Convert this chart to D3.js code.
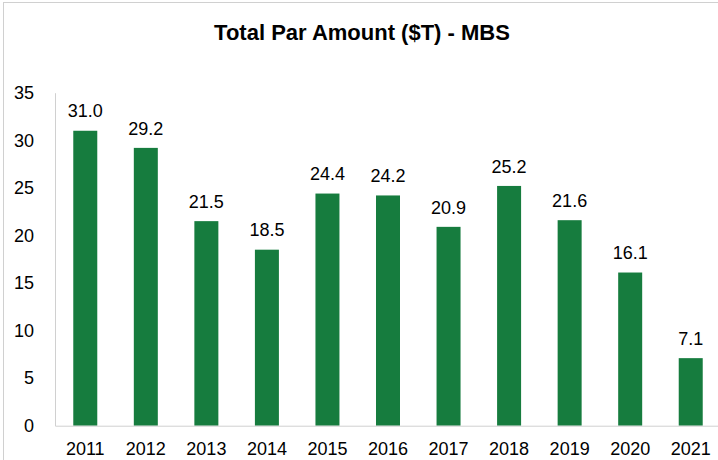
<!DOCTYPE html>
<html><head><meta charset="utf-8">
<script src="https://cdn.jsdelivr.net/npm/d3@7"></script>
<style>body{margin:0;background:#fff}svg{display:block}text{font-family:"Liberation Sans",Arial,sans-serif}</style>
</head><body><svg id="c" width="718" height="460"></svg>
<script>
const years = ["2011","2012","2013","2014","2015","2016","2017","2018","2019","2020","2021"];
const values = [31.0, 29.2, 21.5, 18.5, 24.4, 24.2, 20.9, 25.2, 21.6, 16.1, 7.1];
const yTicks = [0,5,10,15,20,25,30,35];
const title = "Total Par Amount ($T) - MBS";

(function(){
const svg = d3.select("#c");
svg.append("rect").attr("x",3.5).attr("y",2.5).attr("width",730).attr("height",480)
  .attr("fill","#fff").attr("stroke","#d0d0d0").attr("stroke-width",1);

const pL = 55, pR = 721, pT = 92.7, pB = 425.7;
const fs = 18;
const x = d3.scaleBand().domain(years).range([pL,pR]).paddingInner(0.6036).paddingOuter(0.3018);
const y = d3.scaleLinear().domain([0,35]).range([pB,pT]);

svg.append("text").attr("x",362).attr("y",40).attr("text-anchor","middle")
  .attr("font-size",22).attr("font-weight","bold").attr("fill","#000").text(title);

svg.selectAll("rect.bar").data(values).join("rect").attr("class","bar")
  .attr("x",(d,i)=>x(years[i])).attr("width",x.bandwidth())
  .attr("y",d=>y(d)).attr("height",d=>y(0)-y(d)).attr("fill","#167c3e");

svg.selectAll("text.val").data(values).join("text").attr("class","val")
  .attr("x",(d,i)=>x(years[i])+x.bandwidth()/2).attr("y",d=>y(d)-13.3)
  .attr("text-anchor","middle").attr("font-size",fs).attr("fill","#000").text(d=>d.toFixed(1));

const ya = svg.append("g").attr("transform",`translate(${pL},0)`)
  .call(d3.axisLeft(y).tickValues(yTicks).tickSize(0).tickPadding(21));
ya.select(".domain").attr("stroke","#d0d0d0");
ya.selectAll("text").attr("font-size",fs).attr("fill","#000").style("font-family","'Liberation Sans',Arial,sans-serif");

const xa = svg.append("g").attr("transform",`translate(0,${pB})`)
  .call(d3.axisBottom(x).tickSize(0).tickPadding(16.5));
xa.select(".domain").attr("stroke","#d0d0d0");
xa.selectAll("text").attr("font-size",fs).attr("fill","#000").style("font-family","'Liberation Sans',Arial,sans-serif");
})();
</script></body></html>
